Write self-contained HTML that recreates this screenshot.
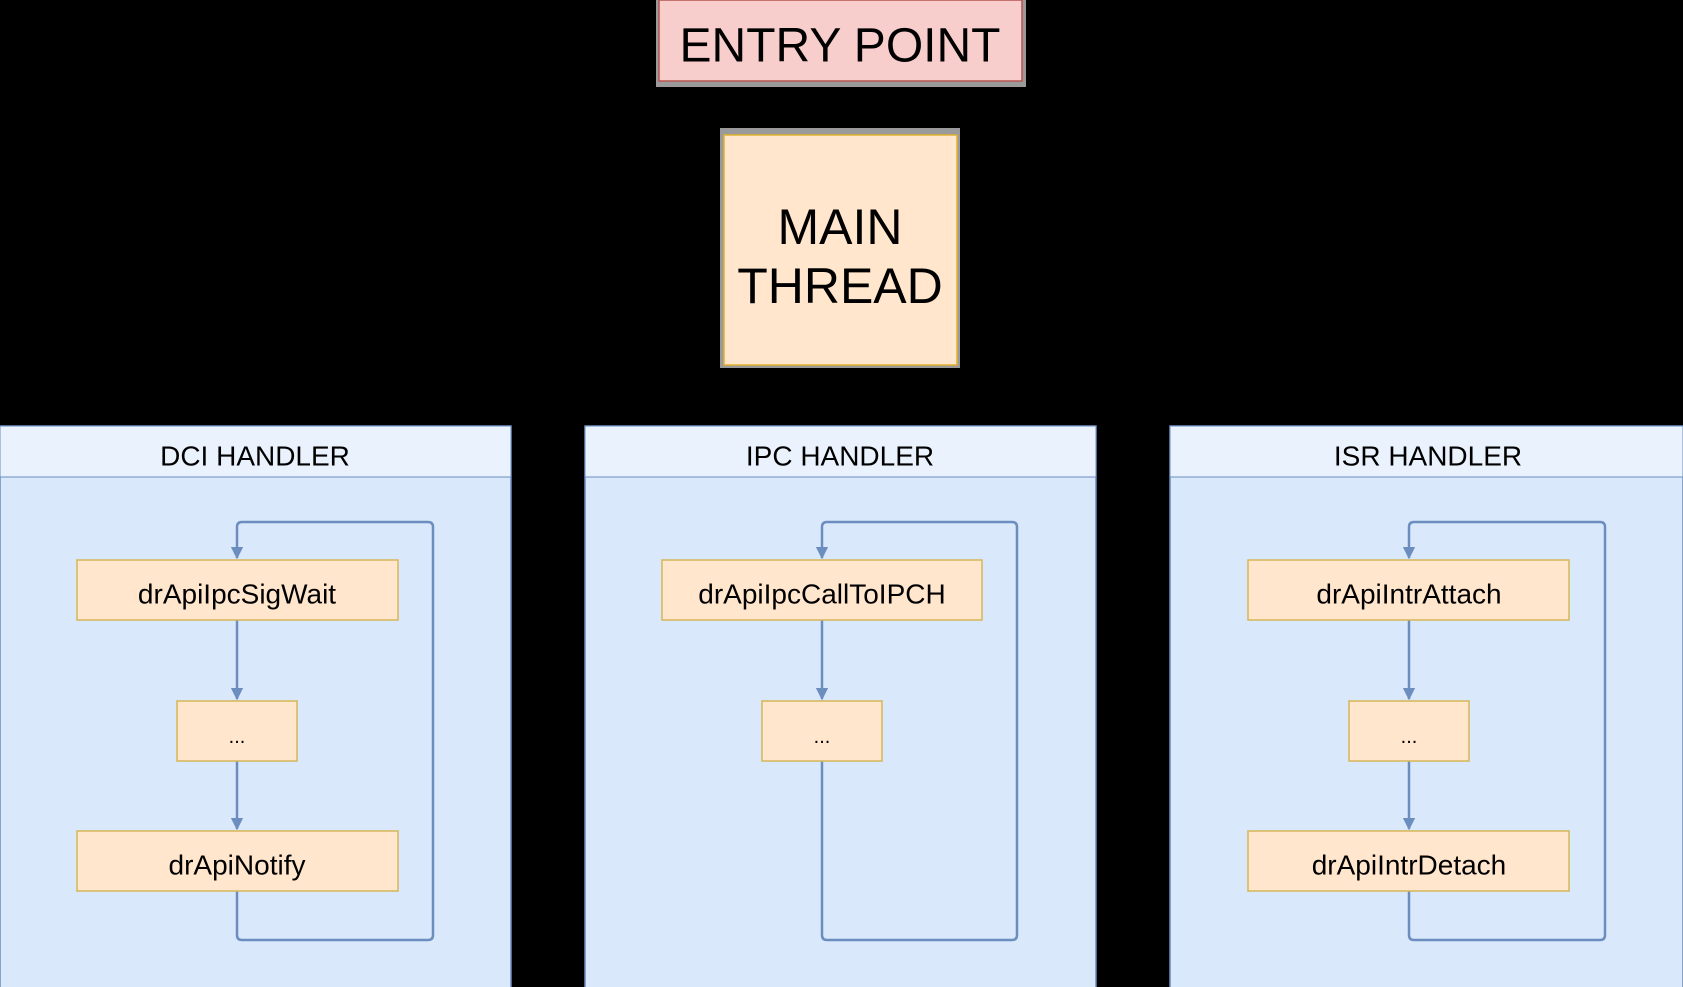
<!DOCTYPE html>
<html><head><style>
html,body{margin:0;padding:0;background:#000;}
svg{display:block}
text{font-family:"Liberation Sans",sans-serif;fill:#000;text-anchor:middle;dominant-baseline:central}
</style></head><body>
<svg width="1683" height="987" viewBox="0 0 1683 987" xmlns="http://www.w3.org/2000/svg">
<defs>
<marker id="a" viewBox="0 0 10 10" refX="9" refY="5" markerWidth="5" markerHeight="5" orient="auto"><path d="M0,0 L10,5 L0,10 z" fill="#6c8ebf"/></marker>
</defs>
<!-- entry point -->
<rect x="656" y="0" width="370" height="87" fill="#9a9a9a"/>
<rect x="659" y="0" width="363" height="81" fill="#f8cecc" stroke="#b85450" stroke-width="1.5"/>
<text x="840" y="46" font-size="48">ENTRY POINT</text>
<!-- main thread -->
<rect x="720" y="128" width="240" height="240" fill="#9a9a9a"/>
<rect x="724" y="135" width="233" height="230" fill="#ffe6cc" stroke="#e0b030" stroke-width="1.5"/>
<text x="840" y="227" font-size="50">MAIN</text>
<text x="840" y="286" font-size="50">THREAD</text>

<g>
<rect x="0" y="426" width="511" height="570" fill="#dae8fc" stroke="#6c8ebf" stroke-width="1.5"/>
<rect x="0" y="426" width="511" height="51" fill="#eaf2fd" stroke="#6c8ebf" stroke-width="1"/>
<text x="255" y="456" font-size="28">DCI HANDLER</text>
<path d="M237,620 L237,699" stroke="#6c8ebf" stroke-width="2.5" fill="none" marker-end="url(#a)"/>
<path d="M237,761 L237,829" stroke="#6c8ebf" stroke-width="2.5" fill="none" marker-end="url(#a)"/>
<path d="M237,891 L237,935 Q237,940 242,940 L428,940 Q433,940 433,935 L433,527 Q433,522 428,522 L242,522 Q237,522 237,527 L237,558" stroke="#6c8ebf" stroke-width="2.5" fill="none" marker-end="url(#a)"/>
<rect x="77" y="560" width="321" height="60" fill="#ffe6cc" stroke="#d6b656" stroke-width="1.5"/>
<text x="237" y="594" font-size="28">drApiIpcSigWait</text>
<rect x="177" y="701" width="120" height="60" fill="#ffe6cc" stroke="#d6b656" stroke-width="1.5"/>
<text x="237" y="737" font-size="20">...</text>
<rect x="77" y="831" width="321" height="60" fill="#ffe6cc" stroke="#d6b656" stroke-width="1.5"/>
<text x="237" y="865" font-size="28">drApiNotify</text>
</g>

<g>
<rect x="585" y="426" width="511" height="570" fill="#dae8fc" stroke="#6c8ebf" stroke-width="1.5"/>
<rect x="585" y="426" width="511" height="51" fill="#eaf2fd" stroke="#6c8ebf" stroke-width="1"/>
<text x="840" y="456" font-size="28">IPC HANDLER</text>
<path d="M822,620 L822,699" stroke="#6c8ebf" stroke-width="2.5" fill="none" marker-end="url(#a)"/>
<path d="M822,761 L822,935 Q822,940 827,940 L1012,940 Q1017,940 1017,935 L1017,527 Q1017,522 1012,522 L827,522 Q822,522 822,527 L822,558" stroke="#6c8ebf" stroke-width="2.5" fill="none" marker-end="url(#a)"/>
<rect x="662" y="560" width="320" height="60" fill="#ffe6cc" stroke="#d6b656" stroke-width="1.5"/>
<text x="822" y="594" font-size="28">drApiIpcCallToIPCH</text>
<rect x="762" y="701" width="120" height="60" fill="#ffe6cc" stroke="#d6b656" stroke-width="1.5"/>
<text x="822" y="737" font-size="20">...</text>
</g>

<g>
<rect x="1170" y="426" width="513" height="570" fill="#dae8fc" stroke="#6c8ebf" stroke-width="1.5"/>
<rect x="1170" y="426" width="513" height="51" fill="#eaf2fd" stroke="#6c8ebf" stroke-width="1"/>
<text x="1428" y="456" font-size="28">ISR HANDLER</text>
<path d="M1409,620 L1409,699" stroke="#6c8ebf" stroke-width="2.5" fill="none" marker-end="url(#a)"/>
<path d="M1409,761 L1409,829" stroke="#6c8ebf" stroke-width="2.5" fill="none" marker-end="url(#a)"/>
<path d="M1409,891 L1409,935 Q1409,940 1414,940 L1600,940 Q1605,940 1605,935 L1605,527 Q1605,522 1600,522 L1414,522 Q1409,522 1409,527 L1409,558" stroke="#6c8ebf" stroke-width="2.5" fill="none" marker-end="url(#a)"/>
<rect x="1248" y="560" width="321" height="60" fill="#ffe6cc" stroke="#d6b656" stroke-width="1.5"/>
<text x="1409" y="594" font-size="28">drApiIntrAttach</text>
<rect x="1349" y="701" width="120" height="60" fill="#ffe6cc" stroke="#d6b656" stroke-width="1.5"/>
<text x="1409" y="737" font-size="20">...</text>
<rect x="1248" y="831" width="321" height="60" fill="#ffe6cc" stroke="#d6b656" stroke-width="1.5"/>
<text x="1409" y="865" font-size="28">drApiIntrDetach</text>
</g>
</svg>
</body></html>
